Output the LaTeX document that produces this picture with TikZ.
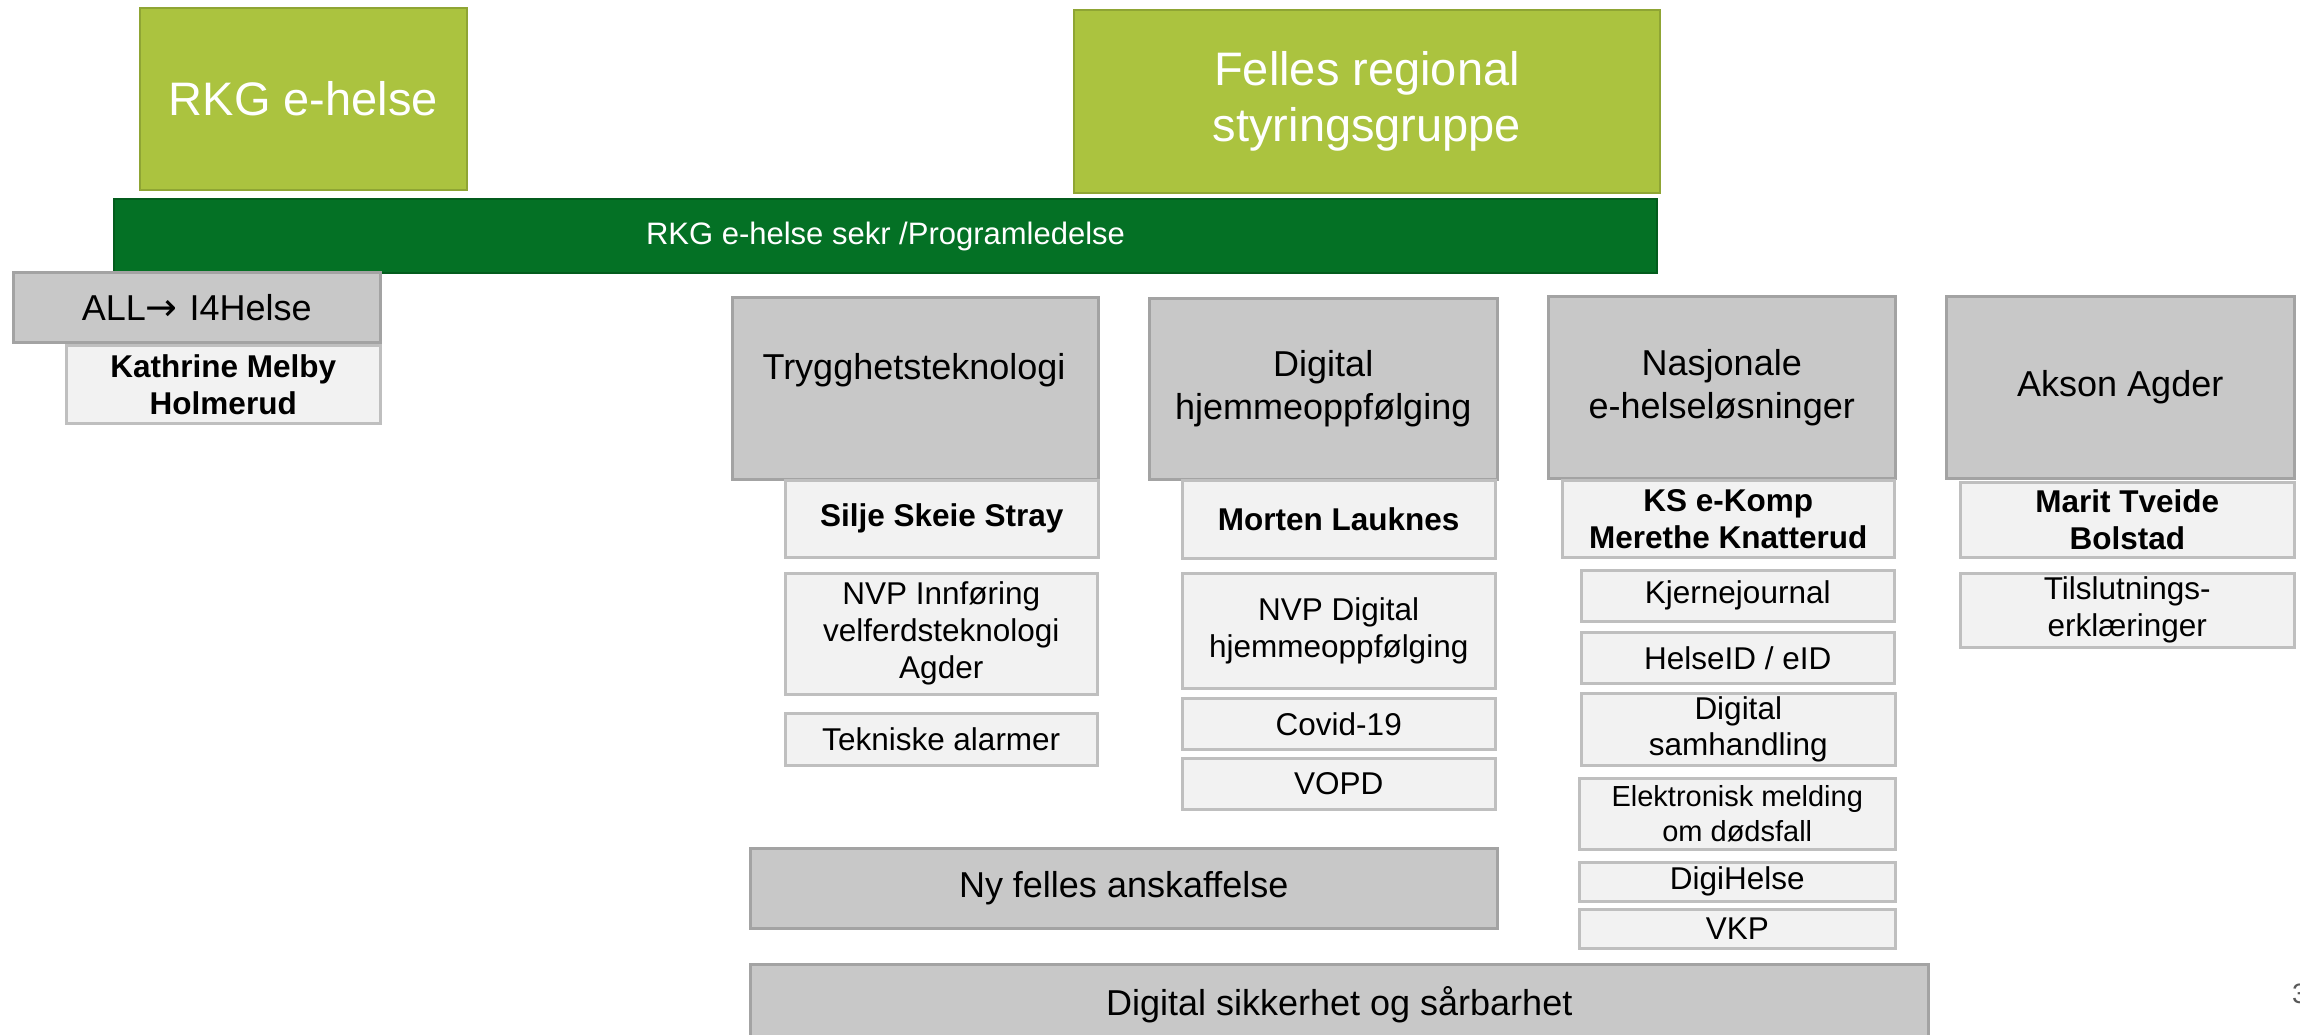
\documentclass[tikz,border=0pt]{standalone}
\usepackage{fontspec}
\setmainfont{Liberation Sans}
\newfontfamily\arrowfont{DejaVu Sans}
\definecolor{lgreen}{HTML}{ABC33F}
\definecolor{lgreenb}{HTML}{8FA534}
\definecolor{dgreen}{HTML}{047125}
\definecolor{dgreenb}{HTML}{035C1D}
\definecolor{gfill}{HTML}{C8C8C8}
\definecolor{gdraw}{HTML}{A3A3A3}
\definecolor{lfill}{HTML}{F2F2F2}
\definecolor{ldraw}{HTML}{BFBFBF}
\definecolor{pagenum}{HTML}{595959}
\begin{document}
\begin{tikzpicture}[x=1pt,y=-1pt,
  box/.style={inner sep=0pt, align=center, anchor=north west},
  greenbox/.style={box, fill=lgreen, draw=lgreenb, line width=2pt, text=white, font=\fontsize{47}{56}\selectfont},
  barbox/.style={box, fill=dgreen, draw=dgreenb, line width=2pt, text=white, font=\fontsize{31}{37}\selectfont},
  catbox/.style={box, fill=gfill, draw=gdraw, line width=2.5pt, font=\fontsize{36}{43}\selectfont},
  cattext/.style={inner sep=0pt, align=center, font=\fontsize{36}{43}\selectfont},
  namebox/.style={box, fill=lfill, draw=ldraw, line width=2.5pt, font=\bfseries\fontsize{31.5}{37}\selectfont},
  itembox/.style={box, fill=lfill, draw=ldraw, line width=2.5pt, font=\fontsize{31.5}{37}\selectfont}
]
\useasboundingbox (0,0) rectangle (2300,1034);
\clip (0,0) rectangle (2300,1034);
\fill[white] (0,0) rectangle (2300,1034);

% top green boxes
\node[greenbox, minimum width=327pt, minimum height=182pt] (rkg) at (139,7) {RKG e-helse};
\node[greenbox, minimum width=586pt, minimum height=183pt] (felles) at (1073,9) {Felles regional\\styringsgruppe};

% secretariat bar
\node[barbox, minimum width=1543pt, minimum height=74pt] (bar) at (113,198) {RKG e-helse sekr /Programledelse};

% left column
\node[catbox, minimum width=367pt, minimum height=70pt] (all) at (12,271) {ALL{\arrowfont\fontsize{38}{43}\selectfont →}\kern2pt\ I4Helse};
\node[namebox, minimum width=314pt, minimum height=78pt] (kath) at (65,344) {Kathrine Melby\\Holmerud};

% Trygghetsteknologi
\node[catbox, minimum width=366pt, minimum height=182pt] (tryg) at (731,296) {};
\node[cattext, anchor=base] (trygt) at (914,379) {Trygghetsteknologi};
\node[namebox, minimum width=313pt, minimum height=77pt] (silje) at (784,479) {Silje Skeie Stray};
\node[itembox, minimum width=312pt, minimum height=121pt] (nvpa) at (784,572) {NVP Innføring\\velferdsteknologi\\Agder};
\node[itembox, minimum width=312pt, minimum height=52pt] (tekn) at (784,712) {Tekniske alarmer};

% Digital hjemmeoppfolging
\node[catbox, minimum width=348pt, minimum height=181pt] (dig) at (1148,297) {Digital\\hjemmeoppfølging};
\node[namebox, minimum width=313pt, minimum height=78pt] (morten) at (1181,479) {Morten Lauknes};
\node[itembox, minimum width=313pt, minimum height=115pt] (nvpd) at (1181,572) {NVP Digital\\hjemmeoppfølging};
\node[itembox, minimum width=313pt, minimum height=51pt] (covid) at (1181,697) {Covid-19};
\node[itembox, minimum width=313pt, minimum height=51pt] (vopd) at (1181,757) {VOPD};

% Nasjonale e-helselosninger
\node[catbox, minimum width=347pt, minimum height=182pt] (nasj) at (1547,295) {Nasjonale\\e-helseløsninger};
\node[namebox, minimum width=332pt, minimum height=77pt] (ks) at (1561,479) {KS e-Komp\\Merethe Knatterud};
\node[itembox, minimum width=313pt, minimum height=51pt] (kj) at (1580,569) {Kjernejournal};
\node[itembox, minimum width=313pt, minimum height=51pt] (hid) at (1580,631) {HelseID / eID};
\node[itembox, minimum width=314pt, minimum height=72pt, font=\fontsize{31.5}{36}\selectfont] (dsam) at (1580,692) {Digital\\samhandling};
\node[itembox, minimum width=316pt, minimum height=71pt, font=\fontsize{29}{35}\selectfont] (elek) at (1578,777) {Elektronisk melding\\om dødsfall};
\node[itembox, minimum width=316pt, minimum height=39pt] (digih) at (1578,861) {DigiHelse};
\node[itembox, minimum width=316pt, minimum height=39pt] (vkp) at (1578,908) {VKP};

% Akson Agder
\node[catbox, minimum width=348pt, minimum height=182pt] (akson) at (1945,295) {Akson Agder};
\node[namebox, minimum width=334pt, minimum height=75pt] (marit) at (1959,481) {Marit Tveide\\Bolstad};
\node[itembox, minimum width=334pt, minimum height=74pt] (tils) at (1959,572) {Tilslutnings-\\erklæringer};

% bottom wide boxes
\node[catbox, minimum width=747pt, minimum height=80pt] (ny) at (749,847) {Ny felles anskaffelse};
\node[catbox, minimum width=1178pt, minimum height=80pt] (sik) at (749,963) {Digital sikkerhet og sårbarhet};

% page number
\node[inner sep=0pt, anchor=base west, text=pagenum, font=\fontsize{28}{32}\selectfont] (pnum) at (2292,1003) {3};
\end{tikzpicture}
\end{document}
